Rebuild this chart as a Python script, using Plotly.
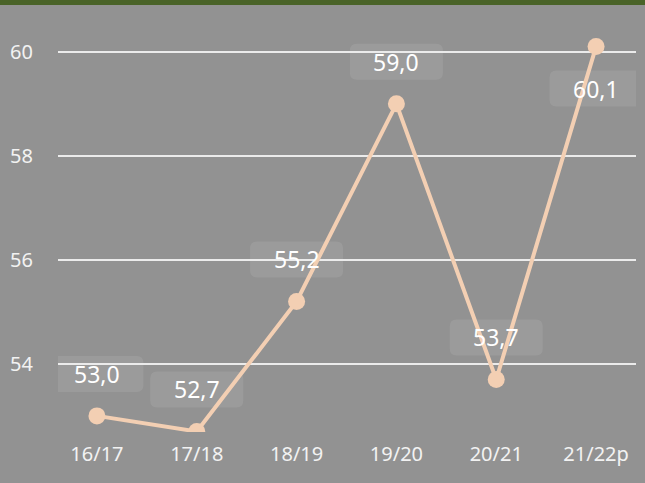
import plotly.graph_objects as go

categories = ["16/17", "17/18", "18/19", "19/20", "20/21", "21/22p"]
values = [53.0, 52.7, 55.2, 59.0, 53.7, 60.1]
value_labels = ["53,0", "52,7", "55,2", "59,0", "53,7", "60,1"]
label_above = [True, True, True, True, True, False]
y_ticks = [54, 56, 58, 60]

BG = "#929292"
LINE = "#f3cfb3"
BOX_W, BOX_H, R, SHIFT = 93, 36, 7, 42


def rounded_rect_path(cy):
    x0, x1 = -BOX_W / 2, BOX_W / 2
    y0, y1 = cy - BOX_H / 2, cy + BOX_H / 2
    return (f"M{x0 + R},{y0} L{x1 - R},{y0} Q{x1},{y0} {x1},{y0 + R} "
            f"L{x1},{y1 - R} Q{x1},{y1} {x1 - R},{y1} "
            f"L{x0 + R},{y1} Q{x0},{y1} {x0},{y1 - R} "
            f"L{x0},{y0 + R} Q{x0},{y0} {x0 + R},{y0} Z")


fig = go.Figure()
fig.add_trace(go.Scatter(
    x=categories, y=values, mode="lines+markers",
    line=dict(color=LINE, width=4),
    marker=dict(color=LINE, size=17),
    hoverinfo="skip",
))

for c, v, t, above in zip(categories, values, value_labels, label_above):
    shift = SHIFT if above else -SHIFT
    fig.add_shape(
        type="path", xref="x", yref="y",
        xsizemode="pixel", ysizemode="pixel",
        xanchor=c, yanchor=v,
        path=rounded_rect_path(shift),
        fillcolor="rgba(255,255,255,0.09)", line_width=0, layer="below",
    )
    fig.add_annotation(
        x=c, y=v, text=t, showarrow=False,
        yshift=shift,
        font=dict(family="Noto Sans", size=23, color="white"),
        xanchor="center", yanchor="middle",
    )

fig.add_shape(type="rect", xref="paper", yref="paper",
              x0=-0.2, x1=1.2, y0=1.0, y1=1.02,
              fillcolor="#4a6328", line_width=0, layer="above")

fig.update_layout(
    width=645, height=483,
    margin=dict(l=58, r=9, t=5, b=51),
    paper_bgcolor=BG, plot_bgcolor=BG,
    showlegend=False,
    font=dict(family="Noto Sans", color="#f2f2f2", size=20),
    xaxis=dict(
        type="category", range=[-0.39, 5.40],
        showgrid=False, zeroline=False, showline=False,
        ticks="outside", ticklen=4, tickcolor="rgba(0,0,0,0)",
        tickfont=dict(size=20, color="#f2f2f2"),
    ),
    yaxis=dict(
        range=[52.69, 60.9], tickvals=y_ticks,
        showgrid=True, gridcolor="#ebebeb", gridwidth=2,
        zeroline=False, showline=False,
        ticks="outside", ticklen=20, tickcolor="rgba(0,0,0,0)",
        tickfont=dict(size=20, color="#f2f2f2"),
    ),
)

fig.write_html(
    "out.html",
    config={"displayModeBar": False},
    post_script="document.body.style.margin='0';document.body.style.overflow='hidden';",
)
